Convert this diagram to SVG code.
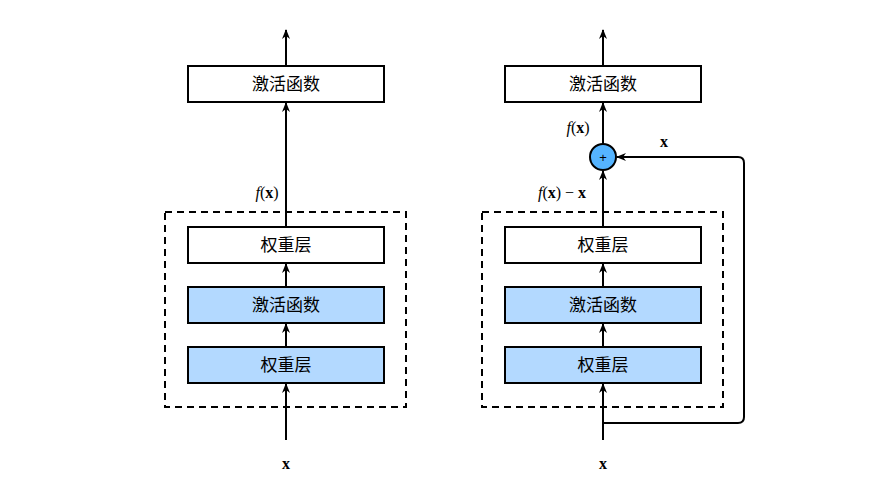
<svg xmlns="http://www.w3.org/2000/svg" width="876" height="488" viewBox="0 0 876 488">
<defs>
<marker id="ah" markerWidth="10" markerHeight="10" refX="9" refY="5" orient="auto" markerUnits="userSpaceOnUse">
<path d="M0,1 L10,5 L0,9 L3,5 Z" fill="#000"/>
</marker>
</defs>
<style>
.b{fill:#fff;stroke:#000;stroke-width:2}
.f{fill:#b3d9ff;stroke:#000;stroke-width:2}
.d{fill:none;stroke:#000;stroke-width:2;stroke-dasharray:7,5}
.t{font-family:"Noto Sans CJK SC",sans-serif;font-size:17px;text-anchor:middle}
.m{font-family:"Liberation Serif",serif;font-size:16px}
.c{fill:none;stroke:#000;stroke-width:2;marker-end:url(#ah)}
</style>
<rect width="876" height="488" fill="#fff"/>
<g id="left">
<rect class="d" x="165" y="212" width="241" height="195"/>
<g id="l_act_top"><rect class="b" x="188" y="66" width="196" height="36"/><text class="t" x="286" y="90">激活函数</text></g>
<g id="l_w2"><rect class="b" x="188" y="227" width="196" height="36"/><text class="t" x="286" y="251">权重层</text></g>
<g id="l_act"><rect class="f" x="188" y="287" width="196" height="36"/><text class="t" x="286" y="311">激活函数</text></g>
<g id="l_w1"><rect class="f" x="188" y="347" width="196" height="36"/><text class="t" x="286" y="371">权重层</text></g>
<text class="m" x="286" y="469" text-anchor="middle" font-weight="bold">x</text>
<text class="m" x="267" y="198" text-anchor="middle"><tspan font-style="italic">f</tspan>(<tspan font-weight="bold">x</tspan>)</text>
</g>
<g id="right">
<rect class="d" x="482" y="212" width="241" height="195"/>
<g id="r_act_top"><rect class="b" x="505" y="66" width="196" height="36"/><text class="t" x="603" y="90">激活函数</text></g>
<g id="r_w2"><rect class="b" x="505" y="227" width="196" height="36"/><text class="t" x="603" y="251">权重层</text></g>
<g id="r_act"><rect class="f" x="505" y="287" width="196" height="36"/><text class="t" x="603" y="311">激活函数</text></g>
<g id="r_w1"><rect class="f" x="505" y="347" width="196" height="36"/><text class="t" x="603" y="371">权重层</text></g>
<g id="plus"><circle cx="603" cy="157" r="13" fill="#55b4ff" stroke="#000" stroke-width="2"/><text x="603" y="162" text-anchor="middle" font-family="Liberation Sans,sans-serif" font-size="13">+</text></g>
<text class="m" x="603" y="469" text-anchor="middle" font-weight="bold">x</text>
<text class="m" x="562" y="198" text-anchor="middle"><tspan font-style="italic">f</tspan>(<tspan font-weight="bold">x</tspan>) − <tspan font-weight="bold">x</tspan></text>
<text class="m" x="578" y="133" text-anchor="middle"><tspan font-style="italic">f</tspan>(<tspan font-weight="bold">x</tspan>)</text>
<text class="m" x="664" y="147" text-anchor="middle" font-weight="bold">x</text>
</g>
<g id="connectors">
<line class="c" x1="286" y1="66" x2="286" y2="30"/>
<line class="c" x1="286" y1="227" x2="286" y2="103"/>
<line class="c" x1="286" y1="287" x2="286" y2="264"/>
<line class="c" x1="286" y1="347" x2="286" y2="324"/>
<line class="c" x1="286" y1="440" x2="286" y2="384"/>
<line class="c" x1="603" y1="66" x2="603" y2="30"/>
<line class="c" x1="603" y1="144" x2="603" y2="103"/>
<line class="c" x1="603" y1="227" x2="603" y2="171"/>
<line class="c" x1="603" y1="287" x2="603" y2="264"/>
<line class="c" x1="603" y1="347" x2="603" y2="324"/>
<line class="c" x1="603" y1="440" x2="603" y2="384"/>
<path class="c" d="M603,423 L738,423 Q744,423 744,417 L744,163 Q744,157 738,157 L617,157"/>
</g>
</svg>
